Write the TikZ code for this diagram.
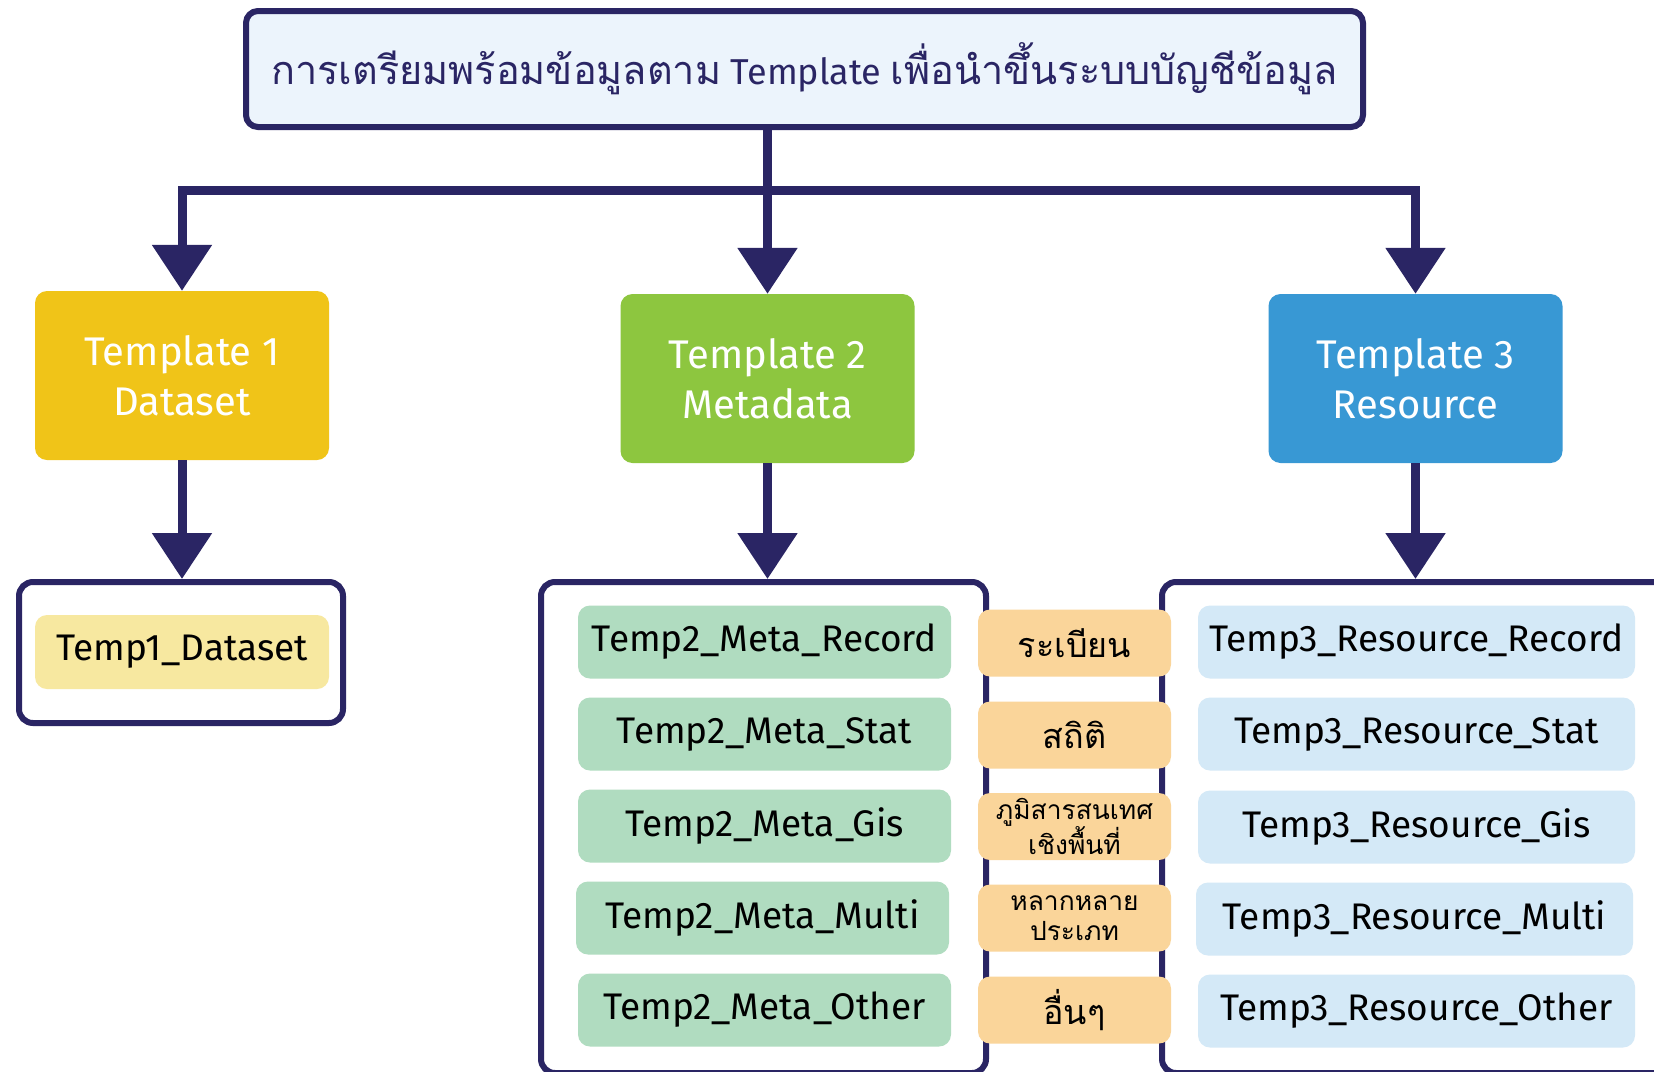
\documentclass[tikz,border=0pt]{standalone}
\usepackage{fontspec}
\setmainfont{Fira Sans}
\newfontfamily\thaifont[Script=Thai,Scale=1.1]{Loma}
\usetikzlibrary{arrows.meta}
\definecolor{navy}{RGB}{42,37,100}
\definecolor{topfill}{RGB}{236,244,252}
\definecolor{yel}{RGB}{240,196,24}
\definecolor{grn}{RGB}{141,198,63}
\definecolor{blu}{RGB}{56,152,212}
\definecolor{yel2}{RGB}{247,232,160}
\definecolor{grn2}{RGB}{176,220,192}
\definecolor{org2}{RGB}{250,213,154}
\definecolor{blu2}{RGB}{212,233,247}
\tikzset{
  box/.style={rounded corners=12pt, inner sep=0pt, align=center},
  titlebox/.style={box, draw=navy, line width=6pt, fill=topfill, minimum width=1117pt, minimum height=116pt, text=navy, font=\fontsize{36}{40}\selectfont},
  tmpl/.style={box, minimum width=294pt, minimum height=169pt, text=white, font=\fontsize{40}{50}\selectfont},
  frame/.style={draw=navy, line width=6pt, rounded corners=14pt, inner sep=0pt},
  item/.style={box, minimum height=73pt, text=black, font=\fontsize{37}{44}\selectfont},
  greenitem/.style={item, fill=grn2, minimum width=373pt},
  blueitem/.style={item, fill=blu2, minimum width=437pt},
  tag/.style={box, fill=org2, minimum width=193pt, minimum height=67pt, text=black, font=\thaifont\fontsize{31}{31}\selectfont},
  tagsmall/.style={tag, font=\thaifont\fontsize{24}{30}\selectfont},
  link/.style={draw=navy, line width=9pt},
  conn/.style={link, -{Triangle[width=58pt,length=46pt]}},
}
\begin{document}
\begin{tikzpicture}[x=1pt,y=-1pt]
\useasboundingbox (0,0) rectangle (1654,1071);
\begin{scope}
\clip (0,0) rectangle (1654,1071);
\fill[white] (0,0) rectangle (1654,1071);

% top
\node[titlebox] (top) at (804.5,69) {{\thaifont การเตรียมพร้อมข้อมูลตาม} Template {\thaifont เพื่อนำขึ้นระบบบัญชีข้อมูล}};

% templates
\node[tmpl, fill=yel] (t1) at (182,375.5) {Template 1\\Dataset};
\node[tmpl, fill=grn] (t2) at (767.5,378.5) {Template 2\\Metadata};
\node[tmpl, fill=blu] (t3) at (1415.5,378.5) {Template 3\\Resource};

% containers
\node[frame, minimum width=324pt, minimum height=141pt] (c1) at (181,652.5) {};
\node[frame, minimum width=445pt, minimum height=491pt] (c2) at (763.5,827.5) {};
\node[frame, minimum width=538pt, minimum height=491pt] (c3) at (1431,827.5) {};

% connectors
\coordinate (bar) at (767.5,190);
\draw[link] (top.south -| t2.north) -- (bar);
\draw[conn] (bar) -- (t2.north);
\draw[conn] (bar) -| (t1.north);
\draw[conn] (bar) -| (t3.north);
\draw[conn] (t1.south) -- (t1.south |- c1.north);
\draw[conn] (t2.south) -- (t2.south |- c2.north);
\draw[conn] (t3.south) -- (t3.south |- c3.north);

% items
\node[item, fill=yel2, minimum width=294pt, minimum height=74pt] (d1) at (182,652) {Temp1\_Dataset};

\node[greenitem] (g1) at (764.5,642) {Temp2\_Meta\_Record};
\node[greenitem] (g2) at (764.5,734) {Temp2\_Meta\_Stat};
\node[greenitem] (g3) at (764.5,826) {Temp2\_Meta\_Gis};
\node[greenitem] (g4) at (762.5,918) {Temp2\_Meta\_Multi};
\node[greenitem] (g5) at (764.5,1010) {Temp2\_Meta\_Other};

\node[tag] (o1) at (1074.5,643) {ระเบียน};
\node[tag] (o2) at (1074.5,735) {สถิติ};
\node[tagsmall] (o3) at (1074.5,826.5) {ภูมิสารสนเทศ\\เชิงพื้นที่};
\node[tagsmall] (o4) at (1074.5,918) {หลากหลาย\\ประเภท};
\node[tag] (o5) at (1074.5,1010) {อื่นๆ};

\node[blueitem] (b1) at (1416.5,642) {Temp3\_Resource\_Record};
\node[blueitem] (b2) at (1416.5,734) {Temp3\_Resource\_Stat};
\node[blueitem] (b3) at (1416.5,827) {Temp3\_Resource\_Gis};
\node[blueitem] (b4) at (1414.5,919) {Temp3\_Resource\_Multi};
\node[blueitem] (b5) at (1416.5,1011) {Temp3\_Resource\_Other};
\end{scope}
\end{tikzpicture}
\end{document}
